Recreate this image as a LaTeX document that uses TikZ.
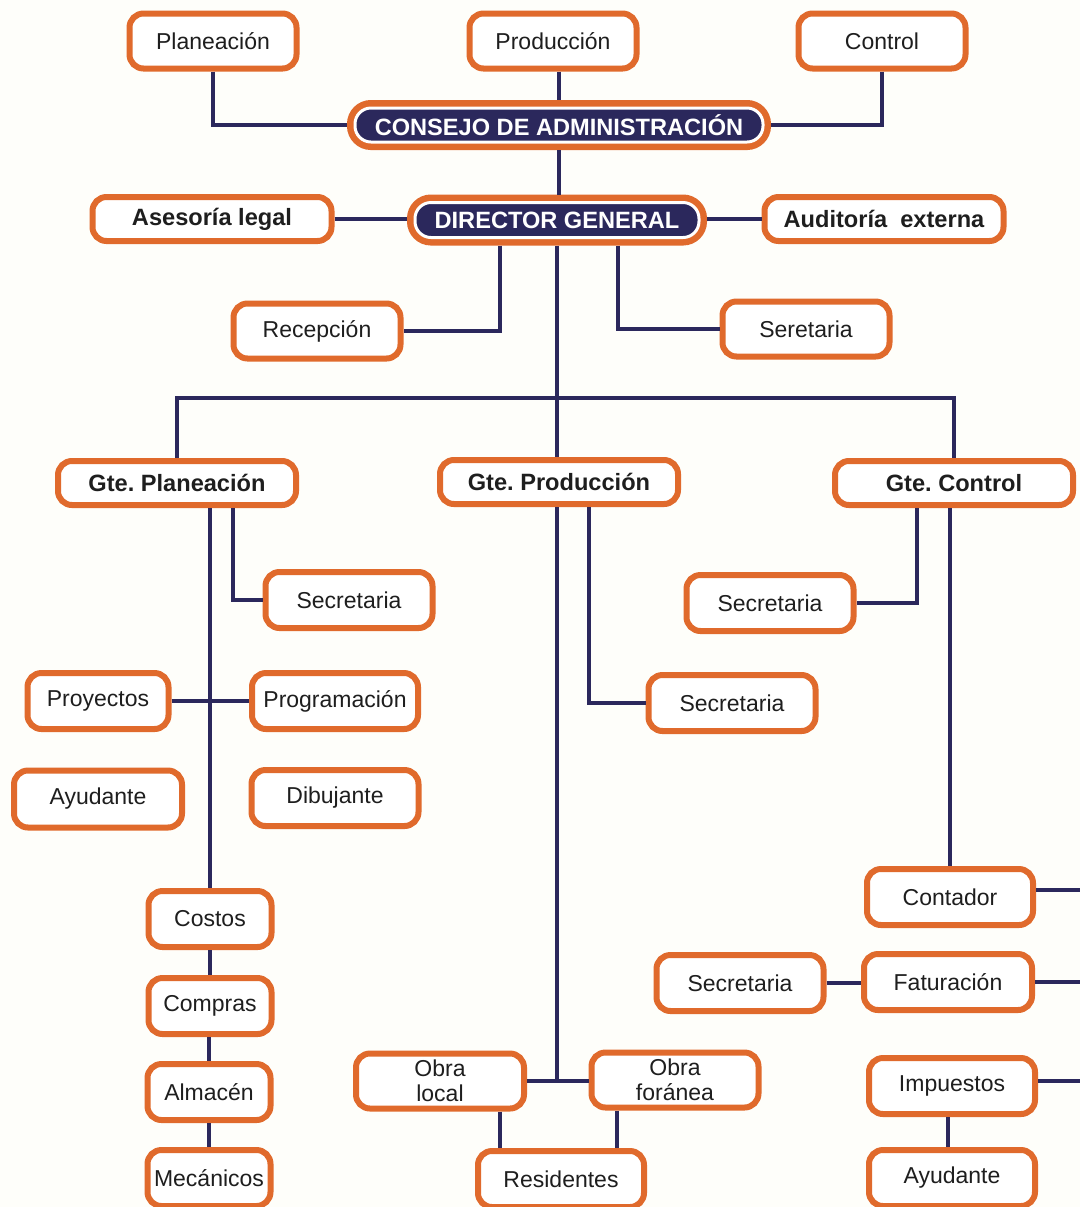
\documentclass[tikz,border=0pt]{standalone}
\usepackage{fontspec}
\setmainfont{Liberation Sans}
\usetikzlibrary{calc}
\definecolor{orng}{RGB}{224,106,44}
\definecolor{navy}{RGB}{43,40,92}
\definecolor{txt}{RGB}{30,30,30}
\definecolor{bgc}{RGB}{254,254,250}
\frenchspacing
\begin{document}
\begin{tikzpicture}[x=0.5pt,y=-0.5pt,
  bx/.style={draw=orng, line width=3pt, rounded corners=7pt, fill=white, inner sep=0pt,
    minimum width=83.5pt, minimum height=27.5pt, text=txt, align=center,
    font=\fontsize{11.5}{12.5}\selectfont},
  bbx/.style={bx, minimum width=119.5pt, minimum height=22pt,
    font=\fontsize{11.8}{13}\selectfont\bfseries},
  dk/.style={preaction={draw=orng, line width=8pt}, draw=white, line width=1.5pt, fill=navy,
    rounded corners=8pt, inner sep=0pt, outer sep=4pt, text=white,
    font=\fontsize{11.8}{13}\selectfont\bfseries},
  conn/.style={draw=navy, line width=2pt}
]
\useasboundingbox (0,0) rectangle (1080,1207);
\clip (0,0) rectangle (1080,1207);
\fill[bgc] (0,0) rectangle (1080,1207);
\coordinate (redge) at (1080,0);
\coordinate (bar) at (557,398);

% top level
\node[bx] (plan) at (213,41) {Planeación};
\node[bx] (prod) at (553,41) {Producción};
\node[bx] (ctrl) at (882,41) {Control};
\node[dk, minimum width=204pt, minimum height=17pt] (consejo) at (559,125) {CONSEJO DE ADMINISTRACIÓN};
\node[dk, minimum width=142pt, minimum height=17.5pt] (dir) at (557,220) {DIRECTOR GENERAL};
\node[bbx] (ases) at (212,219) {Asesoría legal};
\node[bbx] (aud) at (884,219) {Auditoría\ \ externa};
\node[bx] (recep) at (317,331) {Recepción};
\node[bx] (seret) at (806,329) {Seretaria};

% managers
\node[bbx, minimum width=119pt] (gplan) at (177,483) {Gte. Planeación};
\node[bbx, minimum width=119pt] (gprod) at (559,482) {Gte. Producción};
\node[bbx, minimum width=119pt] (gctrl) at (954,483) {Gte. Control};

% planeacion branch
\node[bx, minimum height=28pt] (sec1) at (349,600) {Secretaria};
\node[bx, minimum width=70.5pt, minimum height=28pt] (proy) at (98,701) {Proyectos};
\node[bx, minimum width=83pt, minimum height=28pt] (prog) at (335,701) {Programación};
\node[bx, minimum width=84pt, minimum height=28.5pt] (ayu1) at (98,799) {Ayudante};
\node[bx, minimum height=28pt] (dib) at (335,798) {Dibujante};
\node[bx, minimum width=61.5pt, minimum height=28pt] (costos) at (210,919) {Costos};
\node[bx, minimum width=61.5pt, minimum height=28pt] (compras) at (210,1006) {Compras};
\node[bx, minimum width=61.5pt, minimum height=28pt] (almacen) at (209,1092) {Almacén};
\node[bx, minimum width=61.5pt, minimum height=28pt] (mec) at (209,1178) {Mecánicos};

% produccion branch
\node[bx, minimum height=28pt] (sec2) at (732,703) {Secretaria};
\node[bx, minimum width=84pt] (oloc) at (440,1081) {Obra\\local};
\node[bx] (ofor) at (675,1080) {Obra\\foránea};
\node[bx, minimum width=83pt, minimum height=28pt] (res) at (561,1179) {Residentes};

% control branch
\node[bx, minimum height=28pt] (sec3) at (770,603) {Secretaria};
\node[bx, minimum width=83pt, minimum height=28pt] (cont) at (950,897) {Contador};
\node[bx, minimum width=84pt, minimum height=28pt] (fat) at (948,982) {Faturación};
\node[bx, minimum height=28pt] (sec4) at (740,983) {Secretaria};
\node[bx, minimum width=83pt, minimum height=28pt] (imp) at (952,1086) {Impuestos};
\node[bx, minimum width=83pt, minimum height=28pt] (ayu2) at (952,1178) {Ayudante};

% connectors: top
\draw[conn] (plan.south) |- (consejo.west);
\draw[conn] (consejo.north |- prod.south) -- (consejo.north);
\draw[conn] (ctrl.south) |- (consejo.east);
\draw[conn] (consejo.south) -- (consejo.south |- dir.north);
\draw[conn] (ases.east) -- (ases.east -| dir.west);
\draw[conn] (aud.west -| dir.east) -- (aud.west);
\draw[conn] ($(dir.south)+(-57,0)$) |- (recep.east);
\draw[conn] ($(dir.south)+(61,0)$) |- (seret.west);
\draw[conn] (dir.south) -- (dir.south |- gprod.north);
\draw[conn] (gplan.north) |- (bar) -| (gctrl.north);

% planeacion
\draw[conn] ($(gplan.south)+(56,0)$) |- (sec1.west);
\draw[conn] (costos.north |- gplan.south) -- (costos.north);
\draw[conn] (proy.east) -- (prog.west);
\draw[conn] (costos.south) -- (costos.south |- compras.north);
\draw[conn] (almacen.north |- compras.south) -- (almacen.north);
\draw[conn] (almacen.south) -- (almacen.south |- mec.north);

% produccion
\draw[conn] (dir.south |- gprod.south) -- (dir.south |- oloc.east);
\draw[conn] (oloc.east) -- (oloc.east -| ofor.west);
\draw[conn] ($(gprod.south)+(30,0)$) |- (sec2.west);
\draw[conn] ($(oloc.south)+(60,0)$) -- ($(res.north)+(-61,0)$);
\draw[conn] ($(ofor.south)+(-58,0)$) -- ($(res.north)+(56,0)$);

% control
\draw[conn] ($(gctrl.south)+(-37,0)$) |- (sec3.east);
\draw[conn] (cont.north |- gctrl.south) -- (cont.north);
\draw[conn] ($(cont.east)+(0,-7)$) -- ($(cont.east -| redge)+(0,-7)$);
\draw[conn] (sec4.east) -- (sec4.east -| fat.west);
\draw[conn] (fat.east) -- (fat.east -| redge);
\draw[conn] ($(imp.east)+(0,-5)$) -- ($(imp.east -| redge)+(0,-5)$);
\draw[conn] ($(imp.south)+(-4,0)$) -- ($(ayu2.north)+(-4,0)$);
\end{tikzpicture}
\end{document}
